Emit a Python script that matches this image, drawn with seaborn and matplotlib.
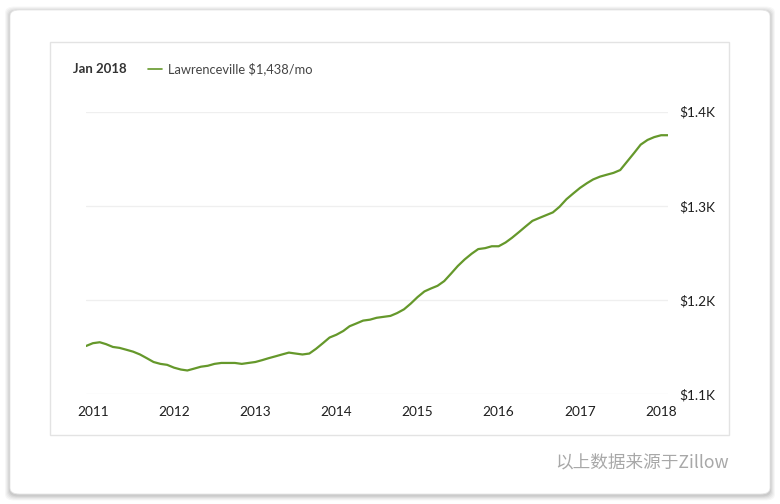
import numpy as np
import pandas as pd
import matplotlib
matplotlib.use("Agg")
import matplotlib.pyplot as plt
import matplotlib.dates as mdates
from matplotlib.patches import FancyBboxPatch, Rectangle
from matplotlib.ticker import FuncFormatter
import seaborn as sns

# Monthly rent index (USD/mo), Nov 2010 - Jan 2018
months = pd.period_range("2010-11", "2018-01", freq="M").to_timestamp(how="end")
rent = [1151, 1154, 1155, 1153, 1150, 1149, 1147, 1145, 1142, 1138,
        1134, 1132, 1131, 1128, 1126, 1125, 1127, 1129, 1130, 1132,
        1133, 1133, 1133, 1132, 1133, 1134, 1136, 1138, 1140, 1142,
        1144, 1143, 1142, 1143, 1148, 1154, 1160, 1163, 1167, 1172,
        1175, 1178, 1179, 1181, 1182, 1183, 1186, 1190, 1196, 1203,
        1209, 1212, 1215, 1220, 1228, 1236, 1243, 1249, 1254, 1255,
        1257, 1257, 1261, 1266, 1272, 1278, 1284, 1287, 1290, 1293,
        1299, 1307, 1313, 1319, 1324, 1328, 1331, 1333, 1335, 1338,
        1347, 1356, 1365, 1370, 1373, 1375, 1375]
year_ticks = list(range(2011, 2019))
y_ticks = [1100, 1200, 1300, 1400]
legend_date = "Jan 2018"
legend_label = "Lawrenceville $1,438/mo"
source_note = "以上数据来源于Zillow"

df = pd.DataFrame({"month": months, "rent": rent})

sns.set_theme(style="white")
plt.rcParams["font.family"] = ["Lato", "Noto Sans CJK SC", "DejaVu Sans"]

W, H = 780, 504
fig = plt.figure(figsize=(W / 100, H / 100), dpi=100)
fig.patch.set_facecolor("white")

# card with soft shadow
for i, a in enumerate([0.03, 0.035, 0.04, 0.05, 0.06]):
    g = 5 - i
    fig.patches.append(FancyBboxPatch(
        ((10 - g) / W, (10 - g - 1.5) / H), (760 + 2 * g) / W, (484 + 2 * g) / H,
        boxstyle="round,pad=0,rounding_size=0.012", transform=fig.transFigure,
        facecolor="black", edgecolor="none", alpha=a, zorder=0))
fig.patches.append(FancyBboxPatch(
    (10 / W, 10 / H), 760 / W, 484 / H,
    boxstyle="round,pad=0,rounding_size=0.012", transform=fig.transFigure,
    facecolor="white", edgecolor="#e6e6e6", linewidth=0.6, zorder=1))
# inner chart frame
fig.patches.append(Rectangle(
    (50 / W, 1 - 435 / H), 679 / W, 393 / H, transform=fig.transFigure,
    facecolor="white", edgecolor="#e3e3e3", linewidth=1.0, zorder=2))

ax = fig.add_axes([86 / W, 1 - 394 / H, 582 / W, (394 - 111.7) / H])
ax.set_zorder(3)
ax.patch.set_alpha(0)

sns.lineplot(data=df, x="month", y="rent", ax=ax, color="#65982b", linewidth=1.6)

ax.set_xlim(months[0], months[-1])
ax.set_ylim(1100, 1400)
ax.set_yticks(y_ticks)
ax.yaxis.tick_right()
ax.yaxis.set_major_formatter(FuncFormatter(lambda v, p: f"${v / 1000:.1f}K"))
ax.set_xticks([pd.Timestamp(f"{y}-01-01") for y in year_ticks])
ax.xaxis.set_major_formatter(mdates.DateFormatter("%Y"))
ax.tick_params(axis="y", length=0, pad=8, labelsize=9.8, labelcolor="#1e1e1e")
ax.tick_params(axis="x", length=0, pad=9, labelsize=9.8, labelcolor="#1e1e1e")
ax.grid(axis="y", color="#efefef", linewidth=0.9)
ax.grid(axis="x", visible=False)
for s in ax.spines.values():
    s.set_visible(False)
ax.set_xlabel("")
ax.set_ylabel("")

# legend header
fig.text(73 / W, 1 - 69 / H, legend_date, fontsize=9.5, fontweight="bold",
         color="#333333", va="center", ha="left", zorder=5)
fig.lines.append(plt.Line2D([148 / W, 162 / W], [1 - 69 / H, 1 - 69 / H],
                            transform=fig.transFigure, color="#65982b",
                            linewidth=1.2, zorder=5))
fig.text(168 / W, 1 - 69 / H, legend_label, fontsize=9.3, color="#444444",
         va="center", ha="left", zorder=5)

fig.text(729 / W, 1 - 462 / H, source_note, fontsize=12.7, color="#a8a8a8",
         va="center", ha="right", family=["Noto Sans CJK SC", "DejaVu Sans"],
         zorder=5)

fig.savefig("out.png", dpi=100, facecolor=fig.get_facecolor())
